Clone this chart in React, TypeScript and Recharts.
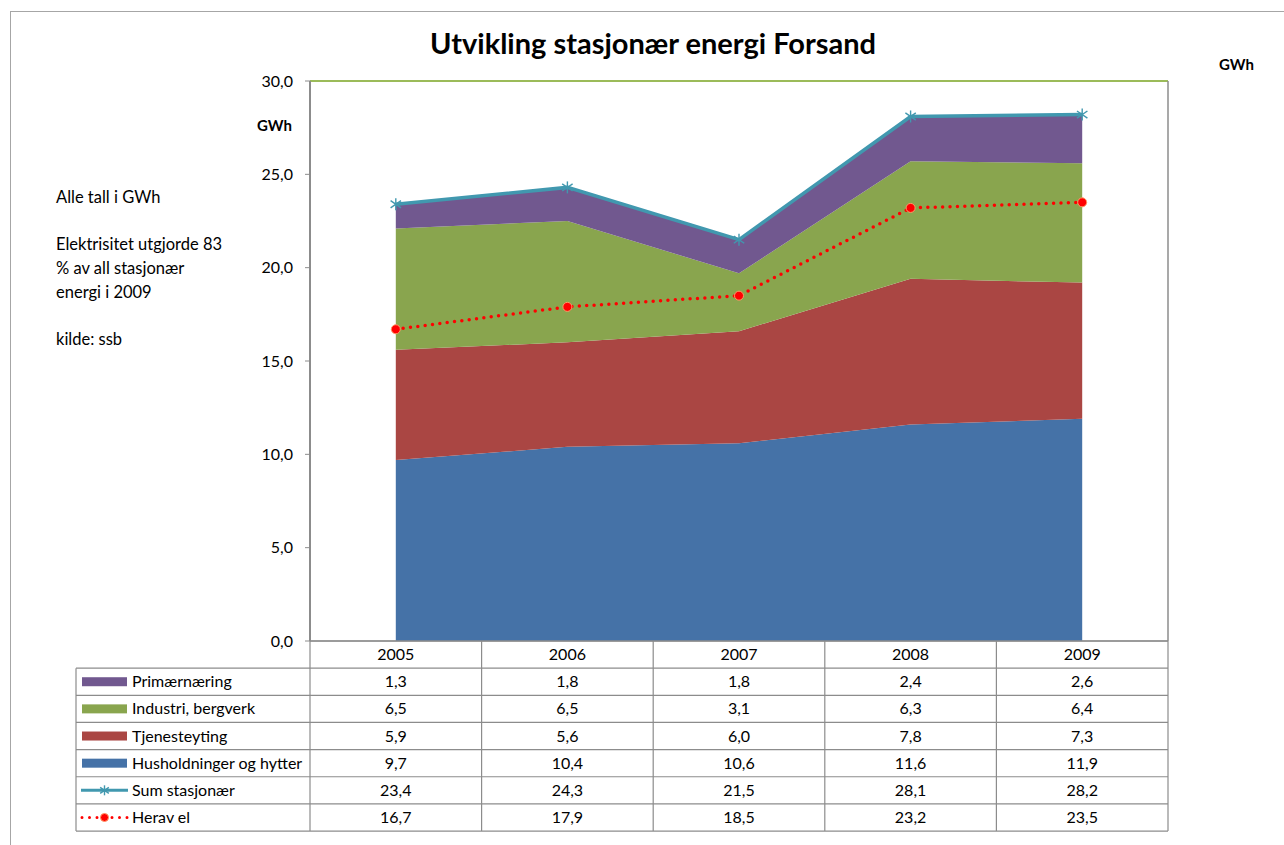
import React from 'react';
import { ComposedChart, Area, Line, XAxis, YAxis, CartesianGrid, ReferenceLine } from 'recharts';

const years = ['2005', '2006', '2007', '2008', '2009'];
const primaer = [1.3, 1.8, 1.8, 2.4, 2.6];
const industri = [6.5, 6.5, 3.1, 6.3, 6.4];
const tjeneste = [5.9, 5.6, 6.0, 7.8, 7.3];
const hushold = [9.7, 10.4, 10.6, 11.6, 11.9];
const sumStasjonaer = [23.4, 24.3, 21.5, 28.1, 28.2];
const heravEl = [16.7, 17.9, 18.5, 23.2, 23.5];
const yTicks = [0, 5, 10, 15, 20, 25, 30];

const FONT = 'Lato, "Open Sans", sans-serif';
const FS = 16;
const C_PRIM = '#71588F';
const C_IND = '#89A54E';
const C_TJE = '#AA4643';
const C_HUS = '#4572A7';
const C_SUM = '#4198AF';
const C_EL = '#FF0000';

const chartData = years.map((y, i) => ({
  year: y,
  hus: hushold[i],
  tje: tjeneste[i],
  ind: industri[i],
  prim: primaer[i],
  sum: sumStasjonaer[i],
  el: heravEl[i],
}));

const fmt = (v: number) => v.toFixed(1).replace('.', ',');

// table rows (label, values, legend key type)
const tableRows = [
  { label: 'Primærnæring', values: primaer, key: 'box', color: C_PRIM },
  { label: 'Industri, bergverk', values: industri, key: 'box', color: C_IND },
  { label: 'Tjenesteyting', values: tjeneste, key: 'box', color: C_TJE },
  { label: 'Husholdninger og hytter', values: hushold, key: 'box', color: C_HUS },
  { label: 'Sum stasjonær', values: sumStasjonaer, key: 'star', color: C_SUM },
  { label: 'Herav el', values: heravEl, key: 'dot', color: C_EL },
];

const Star = ({ cx, cy, r = 6 }: { cx: number; cy: number; r?: number }) => (
  <g stroke={C_SUM} strokeWidth={1.4}>
    <line x1={cx} y1={cy - r} x2={cx} y2={cy + r} />
    <line x1={cx - r * 0.87} y1={cy - r * 0.6} x2={cx + r * 0.87} y2={cy + r * 0.6} />
    <line x1={cx - r * 0.87} y1={cy + r * 0.6} x2={cx + r * 0.87} y2={cy - r * 0.6} />
  </g>
);

const StarDot = (props: any) => {
  const { cx, cy, index } = props;
  if (cx == null || cy == null) return null;
  return <Star key={'s' + index} cx={cx} cy={cy} />;
};

const ElDot = (props: any) => {
  const { cx, cy, index } = props;
  if (cx == null || cy == null) return null;
  return <circle key={'e' + index} cx={cx} cy={cy} r={4.5} fill={C_EL} stroke="#FF9966" strokeWidth={1} />;
};

// table geometry
const plotLeft = 310;
const plotRight = 1168;
const tableLeft = 76;
const tableTop = 641;
const rowH = 27.15;
const colW = (plotRight - plotLeft) / years.length;
const lineColor = '#8c8c8c';

const DataTable = () => {
  const bottom = tableTop + rowH * (tableRows.length + 1);
  return (
    <svg width={1284} height={845} style={{ position: 'absolute', left: 0, top: 0, pointerEvents: 'none' }}>
      {/* horizontal lines */}
      <line x1={plotLeft} x2={plotRight} y1={tableTop} y2={tableTop} stroke={lineColor} strokeWidth={1.5} />
      {tableRows.map((_, i) => (
        <line key={'h' + i} x1={tableLeft} x2={plotRight} y1={tableTop + rowH * (i + 1)} y2={tableTop + rowH * (i + 1)} stroke={lineColor} strokeWidth={1.2} />
      ))}
      <line x1={tableLeft} x2={plotRight} y1={bottom} y2={bottom} stroke={lineColor} strokeWidth={1.2} />
      {/* vertical lines */}
      <line x1={tableLeft} x2={tableLeft} y1={tableTop + rowH} y2={bottom} stroke={lineColor} strokeWidth={1.2} />
      {Array.from({ length: years.length + 1 }).map((_, i) => (
        <line key={'v' + i} x1={plotLeft + colW * i} x2={plotLeft + colW * i} y1={tableTop} y2={bottom} stroke={lineColor} strokeWidth={1.2} />
      ))}
      {/* header */}
      {years.map((y, i) => (
        <text key={'y' + i} x={plotLeft + colW * (i + 0.5)} y={tableTop + rowH / 2} dy="0.35em" textAnchor="middle" fontFamily={FONT} fontSize={FS} fill="#000">
          {y}
        </text>
      ))}
      {tableRows.map((row, r) => {
        const cy = tableTop + rowH * (r + 1.5);
        return (
          <g key={'r' + r}>
            {row.key === 'box' && <rect x={82} y={cy - 4.5} width={45} height={9} fill={row.color} />}
            {row.key === 'star' && (
              <g>
                <line x1={81} x2={128} y1={cy} y2={cy} stroke={C_SUM} strokeWidth={3} />
                <Star cx={104.5} cy={cy} r={5} />
              </g>
            )}
            {row.key === 'dot' && (
              <g>
                <line x1={82} x2={128} y1={cy} y2={cy} stroke={C_EL} strokeWidth={3} strokeDasharray="0 7.5" strokeLinecap="round" />
                <circle cx={104.5} cy={cy} r={4} fill={C_EL} stroke="#FF9966" strokeWidth={1} />
              </g>
            )}
            <text x={132} y={cy} dy="0.35em" fontFamily={FONT} fontSize={FS} fill="#000">
              {row.label}
            </text>
            {row.values.map((v, i) => (
              <text key={i} x={plotLeft + colW * (i + 0.5)} y={cy} dy="0.35em" textAnchor="middle" fontFamily={FONT} fontSize={FS} fill="#000">
                {fmt(v)}
              </text>
            ))}
          </g>
        );
      })}
    </svg>
  );
};

const noteStyle: React.CSSProperties = { position: 'absolute', left: 56, fontFamily: FONT, fontSize: 16.5, color: '#000', lineHeight: '24px', whiteSpace: 'nowrap' };

export default function App() {
  return (
    <div style={{ position: 'absolute', left: 0, top: 0, width: 1284, height: 845, overflow: 'hidden', background: '#fff' }}>
      <div style={{ position: 'absolute', left: 10, top: 11, width: 1300, height: 900, border: '1.5px solid #a6a6a6' }} />
      <div style={{ position: 'absolute', left: 0, top: 25, width: 1306, textAlign: 'center', fontFamily: FONT, fontWeight: 700, fontSize: 29, color: '#000' }}>
        Utvikling stasjonær energi Forsand
      </div>
      <ComposedChart
        width={1284}
        height={845}
        data={chartData}
        margin={{ top: 81, right: 56, bottom: 204, left: 250 }}
        style={{ position: 'absolute', left: 0, top: 0 }}
      >
        <CartesianGrid vertical={false} stroke="#8c8c8c" strokeWidth={1.2} />
        <XAxis dataKey="year" hide padding={{ left: colW / 2, right: colW / 2 }} />
        <YAxis
          yAxisId="left"
          domain={[0, 30]}
          ticks={yTicks}
          width={60}
          tickFormatter={fmt}
          tick={{ fontFamily: FONT, fontSize: FS, fill: '#000' }}
          axisLine={{ stroke: '#8c8c8c', strokeWidth: 2 }}
          tickLine={{ stroke: '#8c8c8c' }}
          tickSize={5}
          tickMargin={12}
        />
        <YAxis
          yAxisId="right"
          orientation="right"
          domain={[0, 30]}
          ticks={yTicks}
          width={60}
          tickFormatter={fmt}
          tick={{ fontFamily: FONT, fontSize: FS, fill: '#000' }}
          axisLine={{ stroke: '#8c8c8c', strokeWidth: 1.5 }}
          tickLine={{ stroke: '#8c8c8c' }}
          tickSize={5}
          tickMargin={12}
        />
        <ReferenceLine yAxisId="left" y={30} stroke="#9BBB59" strokeWidth={2} />
        <Area yAxisId="left" type="linear" dataKey="hus" stackId="a" stroke="none" fill={C_HUS} fillOpacity={1} isAnimationActive={false} />
        <Area yAxisId="left" type="linear" dataKey="tje" stackId="a" stroke="none" fill={C_TJE} fillOpacity={1} isAnimationActive={false} />
        <Area yAxisId="left" type="linear" dataKey="ind" stackId="a" stroke="none" fill={C_IND} fillOpacity={1} isAnimationActive={false} />
        <Area yAxisId="left" type="linear" dataKey="prim" stackId="a" stroke="none" fill={C_PRIM} fillOpacity={1} isAnimationActive={false} />
        <Line yAxisId="left" type="linear" dataKey="sum" stroke={C_SUM} strokeWidth={3.5} dot={<StarDot />} activeDot={false} isAnimationActive={false} />
        <Line
          yAxisId="left"
          type="linear"
          dataKey="el"
          stroke={C_EL}
          strokeWidth={3.5}
          strokeDasharray="0 7.4"
          strokeLinecap="round"
          dot={<ElDot />}
          activeDot={false}
          isAnimationActive={false}
        />
      </ComposedChart>
      <DataTable />
      <div style={{ position: 'absolute', left: 257, top: 116, fontFamily: FONT, fontWeight: 700, fontSize: 15 }}>GWh</div>
      <div style={{ position: 'absolute', left: 1219, top: 55, fontFamily: FONT, fontWeight: 700, fontSize: 15 }}>GWh</div>
      <div style={{ ...noteStyle, top: 185 }}>Alle tall i GWh</div>
      <div style={{ ...noteStyle, top: 232 }}>
        Elektrisitet utgjorde 83
        <br />% av all stasjonær
        <br />
        energi i 2009
      </div>
      <div style={{ ...noteStyle, top: 327 }}>kilde: ssb</div>
    </div>
  );
}
